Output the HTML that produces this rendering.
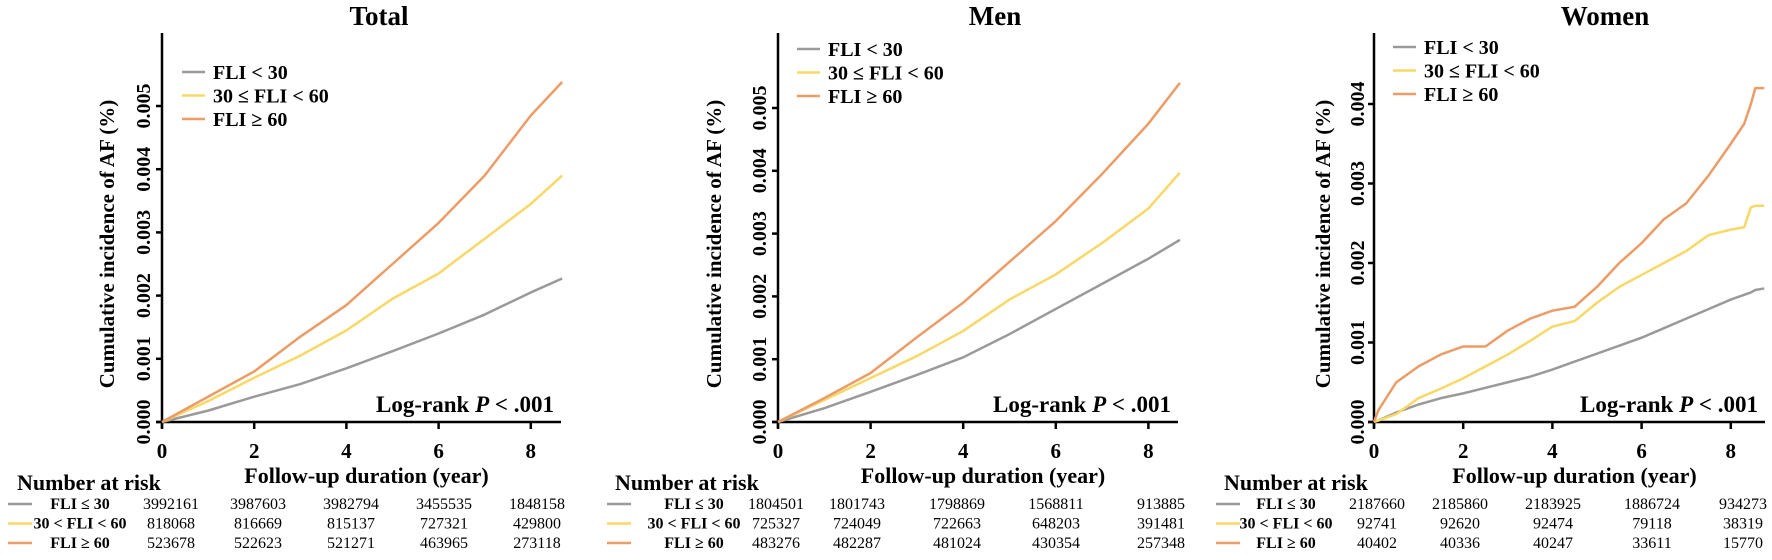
<!DOCTYPE html>
<html><head><meta charset="utf-8"><style>
body{margin:0;background:#fff;}
svg{display:block;font-family:"Liberation Serif",serif;}
</style></head><body>
<svg id="c" width="1772" height="560" viewBox="0 0 1772 560"></svg>
<script>
const xTicks=[0,2,4,6,8];
const groups=["FLI < 30","30 ≤ FLI < 60","FLI ≥ 60"];
const riskLabels=["FLI ≤ 30","30 < FLI < 60","FLI ≥ 60"];
const colors=["#9a9a9a","#f8d866","#ec9c66"];
// years, values in units of 0.001 %
const totalYears=[0,1,2,3,4,5,6,7,8,8.68];
const totalLow=[0,0.18,0.4,0.6,0.85,1.12,1.4,1.7,2.05,2.27];
const totalMid=[0,0.33,0.7,1.05,1.45,1.95,2.35,2.9,3.45,3.9];
const totalHigh=[0,0.4,0.8,1.35,1.85,2.5,3.15,3.9,4.85,5.38];
const menYears=[0,1,2,3,4,5,6,7,8,8.68];
const menLow=[0,0.22,0.48,0.75,1.03,1.4,1.8,2.2,2.6,2.9];
const menMid=[0,0.35,0.7,1.05,1.45,1.95,2.35,2.85,3.4,3.97];
const menHigh=[0,0.38,0.78,1.35,1.9,2.55,3.2,3.95,4.75,5.4];
const womenYears=[0,0.1,0.5,1,1.5,2,2.5,3,3.5,4,4.5,5,5.5,6,6.5,7,7.5,8,8.3,8.45,8.55,8.75];
const womenLow=[0,0.02,0.12,0.22,0.3,0.36,0.43,0.5,0.57,0.66,0.76,0.86,0.96,1.06,1.18,1.3,1.42,1.54,1.6,1.63,1.66,1.68];
const womenMid=[0,0.02,0.1,0.3,0.42,0.55,0.7,0.85,1.02,1.2,1.27,1.5,1.7,1.85,2.0,2.15,2.35,2.42,2.45,2.7,2.72,2.72];
const womenHigh=[0,0.15,0.5,0.7,0.85,0.95,0.95,1.15,1.3,1.4,1.45,1.7,2.0,2.25,2.55,2.75,3.1,3.5,3.75,4.0,4.2,4.2];
const totalRisk=[["3992161","3987603","3982794","3455535","1848158"],["818068","816669","815137","727321","429800"],["523678","522623","521271","463965","273118"]];
const menRisk=[["1804501","1801743","1798869","1568811","913885"],["725327","724049","722663","648203","391481"],["483276","482287","481024","430354","257348"]];
const womenRisk=[["2187660","2185860","2183925","1886724","934273"],["92741","92620","92474","79118","38319"],["40402","40336","40247","33611","15770"]];

const NS="http://www.w3.org/2000/svg";
const svg=document.getElementById('c');
function mk(tag,attrs,parent,text){const e=document.createElementNS(NS,tag);for(const k in attrs)e.setAttribute(k,attrs[k]);if(text!==undefined)e.textContent=text;(parent||svg).appendChild(e);return e;}

function panel(o){
  const g=mk('g',{});
  
  
  const X=v=>o.x0+v*o.px;
  const Y=v=>422-v*o.py;
  const t=mk('text',{x:o.titleX,y:25,'text-anchor':'middle','font-size':27,'font-weight':'bold'},g,o.title);
  
  
  const ya=mk('line',{x1:o.x0,y1:33,x2:o.x0,y2:428,stroke:'#000','stroke-width':2.5},g);
  
  
  const xa=mk('line',{x1:o.x0-6,y1:422,x2:o.xEnd,y2:422,stroke:'#000','stroke-width':2.5},g);
  
  
  xTicks.forEach(v=>{
    mk('line',{x1:X(v),y1:422,x2:X(v),y2:429,stroke:'#000','stroke-width':2.5},g);
    const tl=mk('text',{x:X(v),y:458,'text-anchor':'middle','font-size':21,'font-weight':'bold'},g,String(v));
    
    
  });
  o.yTicks.forEach(v=>{
    mk('line',{x1:o.x0-6,y1:Y(v),x2:o.x0,y2:Y(v),stroke:'#000','stroke-width':2.5},g);
    const tl=mk('text',{x:0,y:0,'text-anchor':'middle','font-size':20,'font-weight':'bold',transform:`translate(${o.tickLX},${Y(v)}) rotate(-90)`},g,(v/1000).toFixed(3));
    
    
  });
  const yt=mk('text',{x:0,y:0,'text-anchor':'middle','font-size':21,'font-weight':'bold',transform:`translate(${o.yTitleX},244) rotate(-90)`},g,'Cumulative incidence of AF (%)');
  
  
  const xt=mk('text',{x:(o.x0+o.xEnd)/2+5,y:483,'text-anchor':'middle','font-size':22,'font-weight':'bold'},g,'Follow-up duration (year)');
  
  
  o.series.forEach((s,i)=>{
    let d='M'+X(o.years[0])+','+Y(s[0]);
    for(let k=1;k<s.length;k++){d+=' L'+X(o.years[k])+','+Y(s[k]);}
    const p=mk('path',{d:d,fill:'none',stroke:colors[i],'stroke-width':2.5,'stroke-linejoin':'round'},g);
    
    
  });
  groups.forEach((lab,i)=>{
    const ly=o.legY+i*23.5;
    const ll=mk('line',{x1:o.legX,y1:ly,x2:o.legX+23,y2:ly,stroke:colors[i],'stroke-width':2.5},g);
    
    
    const lt=mk('text',{x:o.legX+31,y:ly+7,'font-size':20,'font-weight':'bold'},g,lab);
    
    
  });
  const lr=mk('text',{x:o.xEnd-7,y:412,'text-anchor':'end','font-size':23,'font-weight':'bold'},g);
  
  
  mk('tspan',{},lr,'Log-rank ');
  mk('tspan',{'font-style':'italic'},lr,'P');
  mk('tspan',{},lr,' < .001');
  const nr=mk('text',{x:o.nrX,y:490,'font-size':22,'font-weight':'bold'},g,'Number at risk');
  
  
  riskLabels.forEach((lab,i)=>{
    const ry=509+i*19.5;
    mk('line',{x1:o.rowLineX,y1:ry-5,x2:o.rowLineX+24,y2:ry-5,stroke:colors[i],'stroke-width':2.5},g);
    const rl=mk('text',{x:o.rowLabX,y:ry,'text-anchor':'middle','font-size':16,'font-weight':'bold'},g,lab);
    
    
    o.risk[i].forEach((n,j)=>{
      const rn=mk('text',{x:o.colX[j],y:ry,'text-anchor':'middle','font-size':16},g,n);
      
      
    });
  });
}
panel({name:'total',title:'Total',titleX:379,x0:162,px:46.1,py:63.2,xEnd:561,yTicks:[0,1,2,3,4,5],tickLX:150,yTitleX:114,
  years:totalYears,series:[totalLow,totalMid,totalHigh],legX:182,legY:72,nrX:17,rowLineX:8,rowLabX:80,
  colX:[171,258,351,444,537],risk:totalRisk});
panel({name:'men',title:'Men',titleX:995,x0:778,px:46.3,py:62.8,xEnd:1178,yTicks:[0,1,2,3,4,5],tickLX:766,yTitleX:721,
  years:menYears,series:[menLow,menMid,menHigh],legX:797,legY:49,nrX:615,rowLineX:607,rowLabX:694,
  colX:[776,857,957,1056,1161],risk:menRisk});
panel({name:'women',title:'Women',titleX:1605,x0:1374,px:44.6,py:79.5,xEnd:1765,yTicks:[0,1,2,3,4],tickLX:1364,yTitleX:1330,
  years:womenYears,series:[womenLow,womenMid,womenHigh],legX:1393,legY:47,nrX:1224,rowLineX:1216,rowLabX:1286,
  colX:[1377,1460,1553,1652,1743],risk:womenRisk});
</script>
</body></html>
